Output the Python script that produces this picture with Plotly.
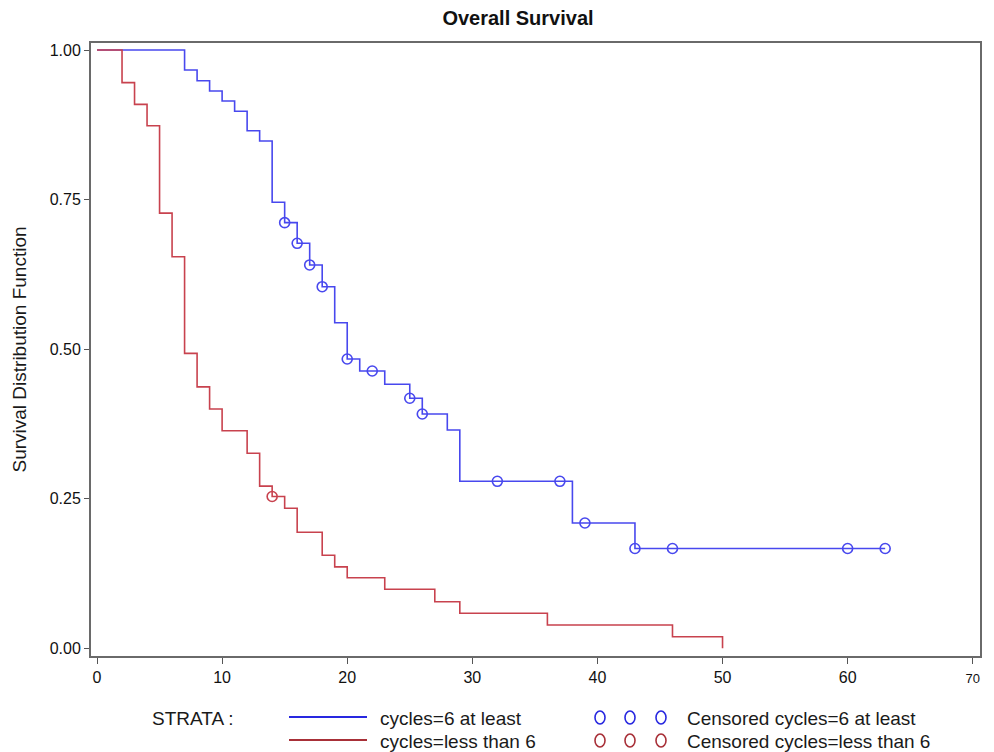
import plotly.graph_objects as go

# ---------------- data ----------------
blue_times = [0, 7, 8, 9, 10, 11, 12, 13, 14, 15, 16, 17, 18, 19, 20, 21, 23, 25, 26, 28, 29, 38, 43, 63]
blue_surv = [1.0, 0.9666, 0.9487, 0.9315, 0.9148, 0.8976, 0.8651, 0.8479, 0.7455, 0.7114,
             0.6769, 0.6407, 0.6044, 0.5442, 0.4835, 0.4635, 0.4413, 0.4179, 0.3916, 0.3649,
             0.2791, 0.2094, 0.1668, 0.1668]
blue_censored = [15, 16, 17, 18, 20, 22, 25, 26, 32, 37, 39, 43, 46, 60, 63]

red_times = [0, 2, 3, 4, 5, 6, 7, 8, 9, 10, 12, 13, 14, 15, 16, 18, 19, 20, 23, 27, 29, 36, 46, 50]
red_surv = [1.0, 0.9455, 0.9091, 0.8735, 0.7273, 0.6545, 0.4930, 0.4370, 0.4000, 0.3637,
            0.3260, 0.2710, 0.2537, 0.2340, 0.1940, 0.1556, 0.1360, 0.1180, 0.0986, 0.0779,
            0.0585, 0.0389, 0.0194, 0.0]
red_censored = [14]

x_ticks = [0, 10, 20, 30, 40, 50, 60, 70]
y_ticks = [0.0, 0.25, 0.5, 0.75, 1.0]

title_text = "Overall Survival"
y_title = "Survival Distribution Function"
blue_name = "cycles=6 at least"
red_name = "cycles=less than 6"

BLUE = "#4848EE"
RED = "#C8424E"
BLUE_LEG = "#2828E0"
RED_LEG = "#A83038"
FONT = "Liberation Sans, Arial, sans-serif"


def surv_at(times, surv, t):
    s = surv[0]
    for ti, si in zip(times, surv):
        if ti <= t:
            s = si
    return s


fig = go.Figure()

fig.add_trace(go.Scatter(x=blue_times, y=blue_surv, mode="lines", line=dict(shape="hv", color=BLUE, width=1.6),
                         showlegend=False, hoverinfo="skip"))
fig.add_trace(go.Scatter(x=blue_censored, y=[surv_at(blue_times, blue_surv, t) for t in blue_censored],
                         mode="markers", marker=dict(symbol="circle-open", size=10, color=BLUE, line=dict(width=1.6)),
                         showlegend=False))
fig.add_trace(go.Scatter(x=red_times, y=red_surv, mode="lines", line=dict(shape="hv", color=RED, width=1.6),
                         showlegend=False, hoverinfo="skip"))
fig.add_trace(go.Scatter(x=red_censored, y=[surv_at(red_times, red_surv, t) for t in red_censored],
                         mode="markers", marker=dict(symbol="circle-open", size=10, color=RED, line=dict(width=1.6)),
                         showlegend=False))

# page body margin of the browser (8px) is compensated here
OFF = 8
W, H = 994 - OFF, 752 - OFF
# plot frame in screenshot pixels: left 91, right 980, top 43, bottom 656
L, T = 91 - OFF, 43 - OFF
R = W - (980 - OFF)
B = H - (656 - OFF)
pw, ph = W - L - R, H - T - B


def px(xs):
    """screenshot x pixel -> paper coordinate"""
    return (xs - OFF - L) / pw


def py(ys):
    """screenshot y pixel -> paper coordinate"""
    return (656 - ys) / ph


x_ticktext = [str(v) for v in x_ticks[:-1]] + ['<span style="font-size:13px">%d</span>' % x_ticks[-1]]

fig.update_layout(
    width=W, height=H,
    margin=dict(l=L, r=R, t=T, b=B),
    paper_bgcolor="white", plot_bgcolor="white",
    font=dict(family=FONT, color="#1a1a1a", size=16),
    title=dict(text="<b>%s</b>" % title_text, x=px(518), xref="paper", xanchor="center",
               y=1 - (18 - OFF) / H, yref="container", yanchor="middle",
               font=dict(size=20, color="#111111")),
    xaxis=dict(range=[-0.48, 70.58], tickvals=x_ticks, ticktext=x_ticktext, ticks="outside", ticklen=6,
               tickcolor="#555555", showgrid=False, zeroline=False, showline=True, mirror=True,
               linecolor="#6a6a6a", linewidth=2, tickfont=dict(size=16, color="#111111"),
               automargin=False),
    yaxis=dict(range=[-0.0129, 1.0117], tickvals=y_ticks, ticktext=["%.2f" % v for v in y_ticks],
               ticks="outside", ticklen=5, tickcolor="#555555", showgrid=False, zeroline=False,
               showline=True, mirror=True, linecolor="#6a6a6a", linewidth=2,
               tickfont=dict(size=16, color="#111111"), automargin=False,
               title=dict(text=y_title, font=dict(size=19), standoff=18)),
)

# ---------------- legend (manual, SAS style) ----------------
LEGF = 19
row1, row2 = 717, 740
fig.add_annotation(text="STRATA :", x=px(150), y=py(row1 + 1), xref="paper", yref="paper",
                   xanchor="left", yanchor="middle", showarrow=False, font=dict(size=LEGF))
for yy, col, name in [(row1, BLUE_LEG, blue_name), (row2, RED_LEG, red_name)]:
    fig.add_shape(type="line", xref="paper", yref="paper", x0=px(289), x1=px(367), y0=py(yy), y1=py(yy),
                  line=dict(color=col, width=2))
    fig.add_annotation(text=name, x=px(378), y=py(yy + 1), xref="paper", yref="paper",
                       xanchor="left", yanchor="middle", showarrow=False, font=dict(size=LEGF))
    for cx in (600, 630, 661):
        fig.add_shape(type="circle", xref="paper", yref="paper",
                      x0=px(cx - 5), x1=px(cx + 5), y0=py(yy + 7), y1=py(yy - 6),
                      line=dict(color=col, width=1.6))
    fig.add_annotation(text="Censored " + name, x=px(685), y=py(yy + 1), xref="paper", yref="paper",
                       xanchor="left", yanchor="middle", showarrow=False, font=dict(size=LEGF))

fig.write_html("out.html")
